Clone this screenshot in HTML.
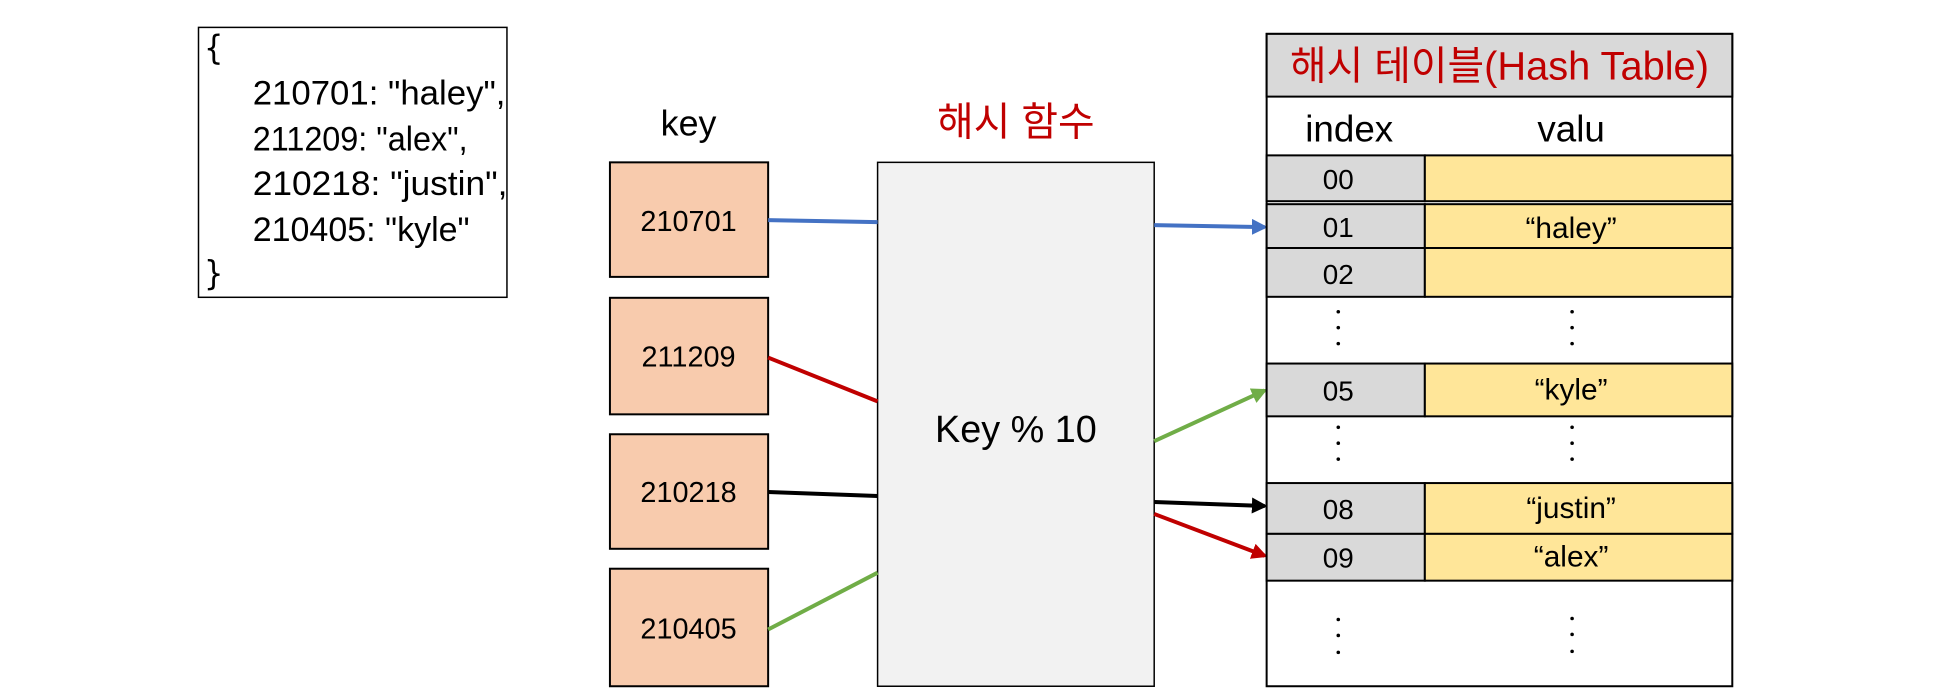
<!DOCTYPE html>
<html><head><meta charset="utf-8"><style>
html,body{margin:0;padding:0;background:#fff;}
svg{display:block;}
text{font-family:"Liberation Sans","Noto Sans CJK KR",sans-serif;}
</style></head><body>
<svg width="1936" height="692" viewBox="0 0 1936 692" xmlns="http://www.w3.org/2000/svg">
<defs>
<marker id="ab" markerWidth="4" markerHeight="4" refX="3.2" refY="2" orient="auto" markerUnits="strokeWidth"><path d="M0,0 L4,2 L0,4 z" fill="#4472c4"/></marker>
<marker id="ar" markerWidth="4" markerHeight="4" refX="3.2" refY="2" orient="auto" markerUnits="strokeWidth"><path d="M0,0 L4,2 L0,4 z" fill="#c00000"/></marker>
<marker id="ak" markerWidth="4" markerHeight="4" refX="3.2" refY="2" orient="auto" markerUnits="strokeWidth"><path d="M0,0 L4,2 L0,4 z" fill="#000"/></marker>
<marker id="ag" markerWidth="4" markerHeight="4" refX="3.2" refY="2" orient="auto" markerUnits="strokeWidth"><path d="M0,0 L4,2 L0,4 z" fill="#70ad47"/></marker>
</defs>
<g transform="scale(0.995,0.996)">
<!-- JSON box -->
<rect x="199.5" y="27.5" width="310" height="271" fill="#fff" stroke="#000" stroke-width="1.5"/>
<g font-size="34" fill="#000">
<text x="205" y="60" style="font-family:'DejaVu Sans Condensed','Liberation Sans',sans-serif">{</text>
<text x="254" y="105" textLength="254" lengthAdjust="spacingAndGlyphs">210701: "haley",</text>
<text x="254" y="151" textLength="216" lengthAdjust="spacingAndGlyphs">211209: "alex",</text>
<text x="254" y="196" textLength="256" lengthAdjust="spacingAndGlyphs">210218: "justin",</text>
<text x="254" y="242" textLength="218" lengthAdjust="spacingAndGlyphs">210405: "kyle"</text>
<text x="205" y="286" style="font-family:'DejaVu Sans Condensed','Liberation Sans',sans-serif">}</text>
</g>
<text x="692" y="136" font-size="36" text-anchor="middle">key</text>
<text x="1021" y="136" font-size="40" fill="#c00000" text-anchor="middle">해시 함수</text>
<!-- key boxes -->
<g fill="#f8cbad" stroke="#000" stroke-width="2">
<rect x="613" y="163" width="159" height="115"/>
<rect x="613" y="299" width="159" height="117"/>
<rect x="613" y="436" width="159" height="115"/>
<rect x="613" y="571" width="159" height="118"/>
</g>
<g font-size="29" text-anchor="middle">
<text x="692" y="232">210701</text>
<text x="692" y="368">211209</text>
<text x="692" y="504">210218</text>
<text x="692" y="641">210405</text>
</g>
<!-- hash fn -->
<rect x="882" y="163" width="278" height="526" fill="#f2f2f2" stroke="#000" stroke-width="1.5"/>
<text x="1021" y="444" font-size="38" text-anchor="middle">Key % 10</text>
<!-- lines -->
<g stroke-width="4" fill="none">
<line x1="772" y1="221" x2="882" y2="223" stroke="#4472c4"/>
<line x1="1160" y1="226" x2="1271" y2="228" stroke="#4472c4" marker-end="url(#ab)"/>
<line x1="772" y1="359" x2="882" y2="403" stroke="#c00000"/>
<line x1="1160" y1="516" x2="1271" y2="558" stroke="#c00000" marker-end="url(#ar)"/>
<line x1="772" y1="494" x2="882" y2="498" stroke="#000"/>
<line x1="1160" y1="504" x2="1271" y2="508" stroke="#000" marker-end="url(#ak)"/>
<line x1="772" y1="632" x2="882" y2="575" stroke="#70ad47"/>
<line x1="1160" y1="443" x2="1271" y2="392" stroke="#70ad47" marker-end="url(#ag)"/>
</g>
<!-- hash table -->
<rect x="1273" y="34" width="468" height="655" fill="#fff" stroke="#000" stroke-width="2"/>
<rect x="1273" y="34" width="468" height="63" fill="#d9d9d9" stroke="#000" stroke-width="2"/>
<text x="1507" y="80" font-size="40" fill="#c00000" text-anchor="middle">해시 테이블(Hash Table)</text>
<text x="1356" y="142" font-size="37" text-anchor="middle">index</text>
<text x="1579" y="142" font-size="37" text-anchor="middle">valu</text>
<g stroke="#000" stroke-width="2">
<rect x="1273" y="156" width="159" height="46" fill="#d9d9d9"/><rect x="1432" y="156" width="309" height="46" fill="#ffe699"/>
<rect x="1273" y="205" width="159" height="44" fill="#d9d9d9"/><rect x="1432" y="205" width="309" height="44" fill="#ffe699"/>
<rect x="1273" y="249" width="159" height="49" fill="#d9d9d9"/><rect x="1432" y="249" width="309" height="49" fill="#ffe699"/>
<rect x="1273" y="365" width="159" height="53" fill="#d9d9d9"/><rect x="1432" y="365" width="309" height="53" fill="#ffe699"/>
<rect x="1273" y="485" width="159" height="51" fill="#d9d9d9"/><rect x="1432" y="485" width="309" height="51" fill="#ffe699"/>
<rect x="1273" y="536" width="159" height="47" fill="#d9d9d9"/><rect x="1432" y="536" width="309" height="47" fill="#ffe699"/>
</g>
<g font-size="28" text-anchor="middle">
<text x="1345" y="190">00</text>
<text x="1345" y="238">01</text>
<text x="1345" y="285">02</text>
<text x="1345" y="402">05</text>
<text x="1345" y="521">08</text>
<text x="1345" y="570">09</text>
</g>
<g font-size="30" text-anchor="middle">
<text x="1579" y="239">“haley”</text>
<text x="1579" y="401">“kyle”</text>
<text x="1579" y="520">“justin”</text>
<text x="1579" y="569">“alex”</text>
</g>
<g fill="#000">
<circle cx="1345" cy="313" r="1.8"/><circle cx="1345" cy="329" r="1.8"/><circle cx="1345" cy="345" r="1.8"/>
<circle cx="1580" cy="313" r="1.8"/><circle cx="1580" cy="329" r="1.8"/><circle cx="1580" cy="345" r="1.8"/>
<circle cx="1345" cy="429" r="1.8"/><circle cx="1345" cy="445" r="1.8"/><circle cx="1345" cy="461" r="1.8"/>
<circle cx="1580" cy="429" r="1.8"/><circle cx="1580" cy="445" r="1.8"/><circle cx="1580" cy="461" r="1.8"/>
<circle cx="1345" cy="622" r="1.8"/><circle cx="1345" cy="638" r="1.8"/><circle cx="1345" cy="655" r="1.8"/>
<circle cx="1580" cy="621" r="1.8"/><circle cx="1580" cy="637" r="1.8"/><circle cx="1580" cy="654" r="1.8"/>
</g>
</g>
</svg>
</body></html>
